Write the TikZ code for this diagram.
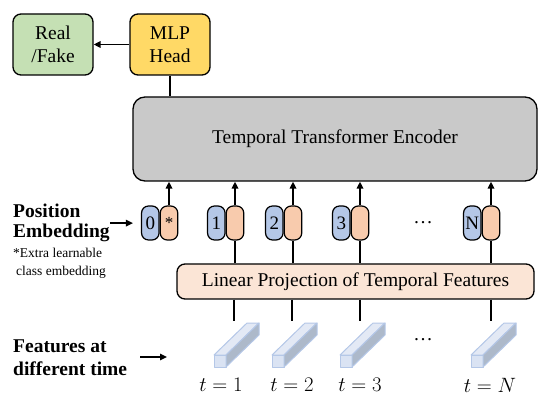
\documentclass[tikz,border=0pt]{standalone}
\usepackage{fontspec}
\setmainfont{Liberation Serif}
\usetikzlibrary{arrows.meta,calc,positioning}
\definecolor{rfgreen}{HTML}{C5E0B4}
\definecolor{mlpyellow}{HTML}{FFD966}
\definecolor{encgray}{HTML}{C9C9C9}
\definecolor{projpeach}{HTML}{FBE5D6}
\definecolor{capblue}{HTML}{B4C7E7}
\definecolor{caporange}{HTML}{F8CBAD}
\definecolor{barfront}{HTML}{DAE3F3}
\definecolor{bartop}{HTML}{E3E9F5}
\definecolor{barside}{HTML}{ADB9CA}
\definecolor{baredge}{HTML}{B4C7E7}

\begin{document}
\begin{tikzpicture}[x=1pt,y=-1pt,
  font=\fontsize{19.5}{23}\selectfont,
  box/.style={draw,line width=1.3pt,rounded corners=8pt,align=center,inner sep=0pt},
  tokcap/.style={draw,line width=1.2pt,rounded corners=7pt,minimum width=17.5pt,
              minimum height=34pt,inner sep=0pt,font=\fontsize{19}{19}\selectfont},
  lab/.style={align=left,inner sep=0pt,anchor=north west},
  face/.style={draw=baredge,line width=1pt,line join=round},
  ar/.style={line width=1.6pt,-{Triangle[length=7pt,width=6.5pt]}},
  ln/.style={line width=1.6pt}]
  \useasboundingbox (0,0) rectangle (555,401);
  % top boxes
  \node[box,fill=rfgreen,minimum width=80pt,minimum height=61pt] (rf) at (53,44.5) {Real\\/Fake};
  \node[box,fill=mlpyellow,minimum width=80pt,minimum height=61pt] (mlp) at (170,44.5) {MLP\\Head};
  \node[box,fill=encgray,rounded corners=12pt,minimum width=404pt,minimum height=84pt] (enc) at (335,139) {Temporal Transformer Encoder};
  \node[box,fill=projpeach,minimum width=357pt,minimum height=35pt] (lp) at (355.5,281.5) {Linear Projection of Temporal Features};
  \draw[ar] (mlp.west) -- (rf.east);
  \draw[ln] (mlp.south) -- (mlp.south |- enc.north);
  % tokens
  \node[tokcap,fill=caporange,font=\fontsize{17}{17}\selectfont] (o0) at (169,223) {*};
  \node[tokcap,fill=capblue,left=0pt of o0] (b0) {0};
  \foreach \ox/\n in {235/1,293/2,360/3,491/N} {
    \node[tokcap,fill=caporange] (o\n) at (\ox,223) {};
    \node[tokcap,fill=capblue,left=0pt of o\n] (b\n) {\n};
    \draw[ln] (lp.north -| o\n) -- (o\n.south);
  }
  \foreach \n in {0,1,2,3,N}
    \draw[ar] (o\n.north) -- (o\n.north |- enc.south);
  \node (dtok) at (423,223) {\textellipsis};
  % feature bars
  \foreach \fx/\lx/\n in {214/221/1,272/292/2,340/360/3,471/490/N} {
    \filldraw[face,fill=barfront] (\fx,367) rectangle ++(12,-12);
    \filldraw[face,fill=bartop] (\fx,355) -- ++(12,0) -- ++(33,-32) -- ++(-12,0) -- cycle;
    \filldraw[face,fill=barside] (\fx+12,367) -- ++(0,-12) -- ++(33,-32) -- ++(0,12) -- cycle;
    \coordinate (ft\n) at (\fx+20,321);
    \node (t\n) at (\lx,385) {$t=\n$};
    \draw[ln] (lp.south -| ft\n) -- (ft\n);
  }
  \node (dfeat) at (423,340) {\textellipsis};
  % left labels
  \node[lab,font=\bfseries\fontsize{19.5}{20}\selectfont] (pos) at (13,204) {Position\\Embedding};
  \node[lab,font=\fontsize{13.5}{18}\selectfont] (cls) at (13,248) {*Extra learnable\\\hspace*{3pt}class embedding};
  \node[lab,font=\bfseries\fontsize{19.5}{23}\selectfont] (feat) at (13,340) {Features at\\different time};
  \draw[ar,shorten >=8pt] (pos.east) -- (pos.east -| b0.west);
  \coordinate (featin) at (167,357);
  \draw[ar,shorten <=13pt] (feat.east |- featin) -- (featin);
\end{tikzpicture}
\end{document}
